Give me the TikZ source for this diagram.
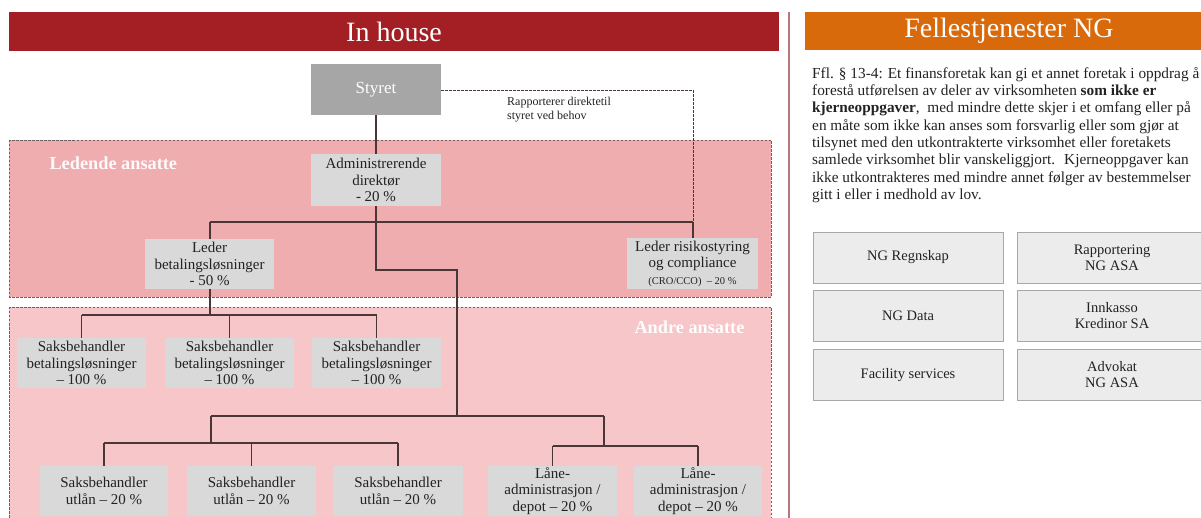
\documentclass[tikz,border=0pt]{standalone}
\usepackage{fontspec}
\setmainfont{Liberation Serif}
\definecolor{hdrred}{HTML}{A31F24}
\definecolor{hdrorange}{HTML}{D86A0C}
\definecolor{lead}{HTML}{EFADB0}
\definecolor{other}{HTML}{F6C6C9}
\definecolor{boxgray}{HTML}{D9D9D9}
\definecolor{boardgray}{HTML}{A6A6A6}
\definecolor{gridfill}{HTML}{ECECEC}
\definecolor{gridline}{HTML}{A8A8A8}
\definecolor{linecol}{HTML}{4A3637}
\definecolor{textdark}{HTML}{222222}
\definecolor{divider}{HTML}{B5777A}
\begin{document}
\begin{tikzpicture}[x=1pt,y=-1pt,
  orgbox/.style={rectangle, fill=boxgray, inner sep=0pt, minimum width=129pt, minimum height=50pt,
    align=center, text=textdark, font=\fontsize{15}{16.5}\selectfont},
  gridbox/.style={rectangle, fill=gridfill, draw=gridline, line width=0.8pt, inner sep=0pt,
    minimum width=190pt, minimum height=51pt, align=center, text=textdark,
    font=\fontsize{14.5}{16}\selectfont},
  conn/.style={draw=linecol, line width=1.1pt},
  dconn/.style={draw=linecol, line width=0.8pt, dash pattern=on 2.5pt off 1.5pt},
  region/.style={draw=linecol!80, line width=0.8pt, dash pattern=on 2.5pt off 1.5pt},
  hdrtext/.style={text=white, font=\fontsize{28}{30}\selectfont},
  grouplabel/.style={text=white, font=\bfseries\fontsize{18.3}{20}\selectfont}
]
\useasboundingbox (0,0) rectangle (1201,518);
\begin{scope}
\clip (0,0) rectangle (1201,518);
% headers
\fill[hdrred] (9,12) rectangle (779,51);
\node[hdrtext] (inhouse) at (394,32) {In house};
\fill[hdrorange] (805,12) rectangle (1213,50);
\node[hdrtext] (felles) at (1009,31) {Fellestjenester NG};
\draw[divider, line width=1.3pt] (789,12) -- (789,520);

% regions
\filldraw[fill=lead, region] (9,140) rectangle (771,297);
\filldraw[fill=other, region] (9,307) rectangle (771,530);
\node[grouplabel, anchor=west, text=white!94!lead] (ledende) at (46,163) {Ledende ansatte};
\node[grouplabel, anchor=east, text=white!96!other] (andre) at (748,327) {Andre ansatte};

% boxes
\node[orgbox, fill=boardgray, text=white, minimum width=130pt, minimum height=51pt,
  font=\fontsize{17}{18}\selectfont] (styret) at (376,89.5) {Styret};
\node[orgbox, minimum width=130pt, minimum height=52pt] (admin) at (376,180)
  {Administrerende\\direktør\\- 20 \%};
\node[orgbox] (lbet) at (209.5,264) {Leder\\betalingsløsninger\\- 50 \%};
\node[orgbox, minimum width=131pt, minimum height=51pt] (lrisk) at (692.5,263.5)
  {Leder risikostyring\\og compliance\\{\fontsize{10.5}{12}\selectfont (CRO/CCO) \ – 20 \%}};
\node[orgbox] (s1) at (81.5,363) {Saksbehandler\\betalingsløsninger\\– 100 \%};
\node[orgbox] (s2) at (229.5,363) {Saksbehandler\\betalingsløsninger\\– 100 \%};
\node[orgbox] (s3) at (376.5,363) {Saksbehandler\\betalingsløsninger\\– 100 \%};
\node[orgbox, minimum width=128pt] (u1) at (104,491) {Saksbehandler\\utlån – 20 \%};
\node[orgbox] (u2) at (251.5,491) {Saksbehandler\\utlån – 20 \%};
\node[orgbox, minimum width=130pt] (u3) at (398,491) {Saksbehandler\\utlån – 20 \%};
\node[orgbox] (l1) at (552.5,491) {Låne-\\administrasjon /\\depot – 20 \%};
\node[orgbox, minimum width=128pt] (l2) at (698,491) {Låne-\\administrasjon /\\depot – 20 \%};

% helper coordinates
\coordinate (j1) at (376,222);
\coordinate (jb) at (210,222);
\coordinate (jr) at (693,222);
\coordinate (dtop) at (693,90);
\coordinate (k1) at (376,270);
\coordinate (k2) at (457,270);
\coordinate (k3) at (457,416);
\coordinate (ml) at (211,416);
\coordinate (mr) at (604,416);
\coordinate (ul) at (211,443);
\coordinate (lr) at (604,446);
\coordinate (sb) at (210,315);

% connectors
\draw[conn] (styret.south) -- (admin.north);
\draw[dconn] (styret.east |- dtop) -- (dtop) -- (jr);
\draw[conn] (admin.south) -- (j1);
\draw[conn] (jb) -- (jr);
\draw[conn] (jb) -- (lbet.north -| jb);
\draw[conn] (jr) -- (lrisk.north -| jr);
\draw[conn] (j1) -- (k1) -- (k2) -- (k3);
\draw[conn] (ml) -- (mr);
\draw[conn] (ml) -- (ul);
\draw[conn] (u1.north |- ul) -- (u3.north |- ul);
\draw[conn] (u1.north |- ul) -- (u1.north);
\draw[conn] (u2.north |- ul) -- (u2.north);
\draw[conn] (u3.north |- ul) -- (u3.north);
\draw[conn] (mr) -- (lr);
\draw[conn] (l1.north |- lr) -- (l2.north |- lr);
\draw[conn] (l1.north |- lr) -- (l1.north);
\draw[conn] (l2.north |- lr) -- (l2.north);
\draw[conn] (lbet.south -| sb) -- (sb);
\draw[conn] (s1.north |- sb) -- (s3.north |- sb);
\draw[conn] (s1.north |- sb) -- (s1.north);
\draw[conn] (s2.north |- sb) -- (s2.north);
\draw[conn] (s3.north |- sb) -- (s3.north);

\node[anchor=north west, align=left, inner sep=0pt, text=textdark,
  font=\fontsize{12}{14}\selectfont] (rapp) at (507,97) {Rapporterer direktetil\\styret ved behov};

% right panel
\node[anchor=north west, align=left, inner sep=0pt, text=textdark,
  font=\fontsize{15.3}{17.3}\selectfont] (law) at (812,67)
  {Ffl. § 13-4: Et finansforetak kan gi et annet foretak i oppdrag å\\
   forestå utførelsen av deler av virksomheten \textbf{som ikke er}\\
   \textbf{kjerneoppgaver}, \ med mindre dette skjer i et omfang eller på\\
   en måte som ikke kan anses som forsvarlig eller som gjør at\\
   tilsynet med den utkontrakterte virksomhet eller foretakets\\
   samlede virksomhet blir vanskeliggjort. \ Kjerneoppgaver kan\\
   ikke utkontrakteres med mindre annet følger av bestemmelser\\
   gitt i eller i medhold av lov.};

\node[gridbox] (g1) at (908,257.5) {NG Regnskap};
\node[gridbox] (g2) at (1112,257.5) {Rapportering\\NG ASA};
\node[gridbox] (g3) at (908,315.5) {NG Data};
\node[gridbox] (g4) at (1112,315.5) {Innkasso\\Kredinor SA};
\node[gridbox] (g5) at (908,375) {Facility services};
\node[gridbox] (g6) at (1112,375) {Advokat\\NG ASA};
\end{scope}
\end{tikzpicture}
\end{document}
